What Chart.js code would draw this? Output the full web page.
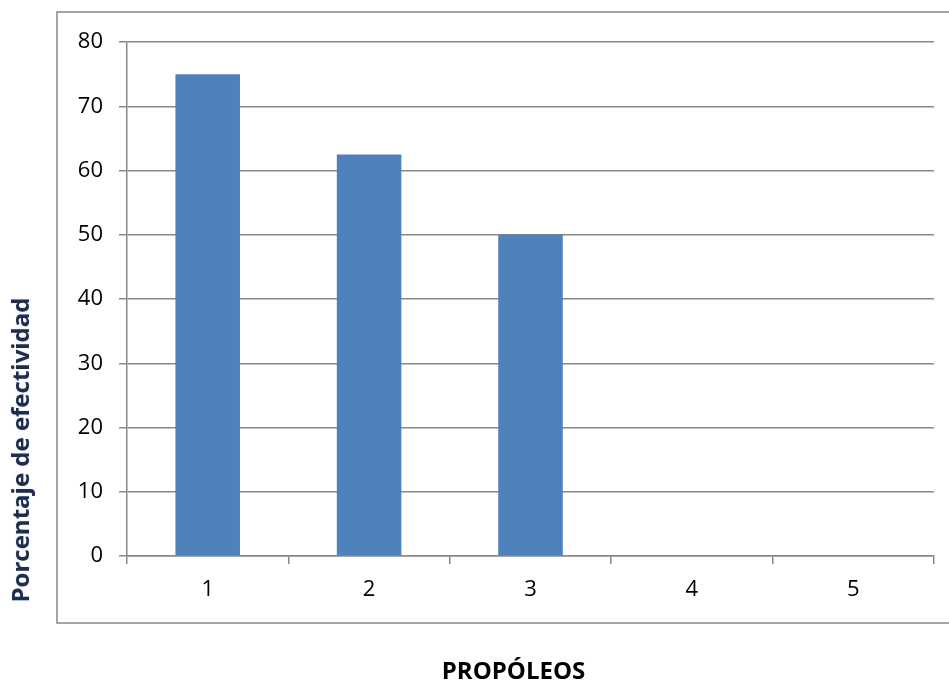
<!DOCTYPE html>
<html>
<head>
<meta charset="utf-8">
<script src="https://cdn.jsdelivr.net/npm/chart.js@4/dist/chart.umd.min.js"></script>
<style>
  html, body { margin: 0; padding: 0; background: #ffffff; }
  #wrap { width: 949px; height: 687px; position: relative; }
</style>
</head>
<body>
<div id="wrap"><canvas id="c" width="949" height="687"></canvas></div>
<script>
// Propóleos evaluados y su porcentaje de efectividad
const categories = ['1', '2', '3', '4', '5'];
const efectividad = [75, 62.5, 50, 0, 0];
const yMin = 0;
const yMax = 80;
const yStep = 10;
const xTitle = 'PROPÓLEOS';
const yTitle = 'Porcentaje de efectividad';

const GRID = '#888888';
const FONT = '"Open Sans", "Liberation Sans", sans-serif';

// Frame around the plot plus both axis titles
const framePlugin = {
  id: 'frameAndTitles',
  beforeDraw(chart) {
    const { ctx, chartArea: a } = chart;
    ctx.save();
    ctx.fillStyle = '#ffffff';
    ctx.fillRect(0, 0, chart.width, chart.height);
    ctx.strokeStyle = GRID;
    ctx.lineWidth = 1.5;
    ctx.beginPath();
    ctx.moveTo(chart.width + 5, a.top - 30);
    ctx.lineTo(a.left - 70, a.top - 30);
    ctx.lineTo(a.left - 70, a.bottom + 67);
    ctx.lineTo(chart.width + 5, a.bottom + 67);
    ctx.stroke();
    ctx.restore();
  },
  afterDraw(chart) {
    const { ctx, chartArea: a } = chart;
    ctx.save();
    ctx.fillStyle = '#000000';
    ctx.font = 'bold 24px ' + FONT;
    ctx.textAlign = 'center';
    ctx.textBaseline = 'middle';
    ctx.fillText(xTitle, (a.left + a.right) / 2 - 17, a.bottom + 116);

    ctx.translate(a.left - 105, a.bottom - 106);
    ctx.rotate(-Math.PI / 2);
    ctx.fillStyle = '#1f2d4d';
    ctx.shadowColor = 'rgba(120,150,200,0.45)';
    ctx.shadowBlur = 1.5;
    ctx.shadowOffsetX = 0;
    ctx.shadowOffsetY = 0;
    ctx.fillText(yTitle, 0, 0);
    ctx.restore();
  }
};

new Chart(document.getElementById('c'), {
  type: 'bar',
  data: {
    labels: categories,
    datasets: [{
      data: efectividad,
      backgroundColor: '#4F81BD',
      borderWidth: 0,
      barPercentage: 0.4,
      categoryPercentage: 1.0
    }]
  },
  options: {
    responsive: false,
    animation: false,
    devicePixelRatio: 1,
    layout: { padding: { top: 42, right: 15, left: 0, bottom: 0 } },
    plugins: {
      legend: { display: false },
      tooltip: { enabled: false },
      title: { display: false }
    },
    scales: {
      x: {
        afterFit(scale) { scale.height = 131; },
        offset: true,
        grid: {
          offset: true,
          drawOnChartArea: false,
          drawTicks: true,
          tickLength: 8,
          color: GRID,
          tickColor: GRID,
          lineWidth: 1.5
        },
        border: { display: true, color: GRID, width: 1.5 },
        ticks: {
          color: '#000000',
          padding: 13,
          font: { family: FONT, size: 22 },
          maxRotation: 0
        }
      },
      y: {
        min: yMin,
        max: yMax,
        afterFit(scale) { scale.width = 127; },
        grid: {
          drawTicks: true,
          tickLength: 8,
          color: GRID,
          tickColor: GRID,
          lineWidth: 1.5
        },
        border: { display: true, color: GRID, width: 1.5 },
        ticks: {
          stepSize: yStep,
          color: '#000000',
          padding: 16,
          font: { family: FONT, size: 22 }
        }
      }
    }
  },
  plugins: [framePlugin]
});
</script>
</body>
</html>
